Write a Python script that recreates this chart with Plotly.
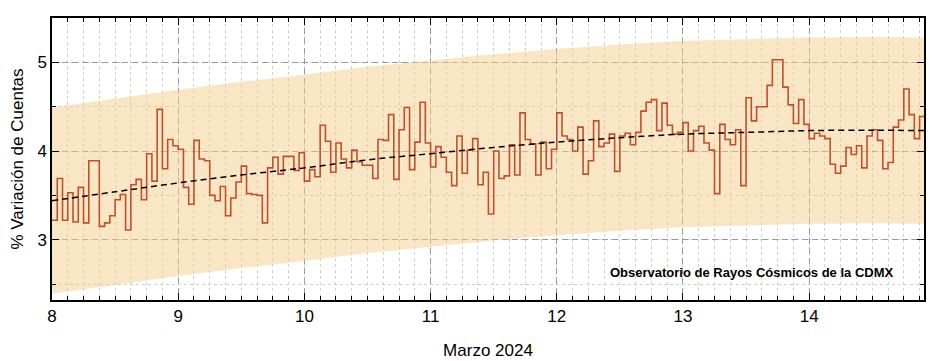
import numpy as np
import plotly.graph_objects as go

# Hourly % variation of counts, starting 8 March 2024 00:00
variacion = [
    3.22, 3.69, 3.22, 3.53, 3.20, 3.59, 3.19, 3.89, 3.89, 3.15,
    3.19, 3.27, 3.45, 3.51, 3.11, 3.62, 3.68, 3.45, 3.97, 3.66,
    4.47, 3.80, 4.13, 4.06, 4.02, 3.59, 3.40, 4.12, 3.91, 3.89,
    3.50, 3.44, 3.60, 3.27, 3.47, 3.65, 3.83, 3.52, 3.51, 3.50,
    3.19, 3.81, 3.93, 3.74, 3.94, 3.94, 3.78, 3.98, 3.66, 3.79,
    3.71, 4.29, 4.11, 3.76, 4.09, 3.91, 3.81, 4.01, 3.88, 3.84,
    3.84, 3.69, 4.13, 4.12, 4.41, 3.68, 4.24, 4.49, 3.79, 4.10,
    4.55, 4.09, 3.82, 4.05, 3.93, 3.76, 3.61, 4.17, 3.75, 4.01,
    4.14, 3.62, 3.76, 3.29, 4.00, 3.69, 3.72, 4.07, 3.73, 4.43,
    4.13, 4.08, 3.73, 4.10, 3.80, 4.02, 4.43, 4.17, 4.13, 4.00,
    4.27, 3.74, 3.89, 4.34, 4.05, 4.09, 4.19, 3.77, 4.17, 4.20,
    4.07, 4.21, 4.45, 4.55, 4.58, 4.23, 4.54, 4.29, 4.19, 4.21,
    4.32, 4.00, 4.23, 4.28, 4.09, 4.01, 3.52, 4.30, 4.13, 4.07,
    4.24, 3.61, 4.60, 4.34, 4.50, 4.50, 4.74, 5.03, 5.03, 4.72,
    4.52, 4.31, 4.58, 4.30, 4.14, 4.20, 4.17, 4.14, 3.85, 3.75,
    3.83, 4.04, 3.96, 4.06, 3.81, 4.17, 4.24, 4.12, 3.80, 3.87,
    4.27, 4.35, 4.70, 4.41, 4.14, 4.39,
]

# Trend curve and band, read at half-day steps
trend_dias = [8.0, 8.5, 9.0, 9.5, 10.0, 10.5, 11.0, 11.5, 12.0, 12.5, 13.0, 13.5, 14.0, 14.5, 14.92]
trend_val = [3.44, 3.54, 3.64, 3.73, 3.81, 3.90, 3.97, 4.04, 4.10, 4.15, 4.19, 4.21, 4.23, 4.235, 4.23]
banda_sup = [4.49, 4.59, 4.69, 4.78, 4.86, 4.95, 5.02, 5.09, 5.15, 5.20, 5.24, 5.26, 5.28, 5.285, 5.28]
banda_inf = [2.39, 2.49, 2.59, 2.68, 2.76, 2.85, 2.92, 2.99, 3.05, 3.10, 3.14, 3.16, 3.18, 3.185, 3.18]

x_ticks = [8, 9, 10, 11, 12, 13, 14]
x_labels = ["8", "9", "10", "11", "12", "13", "14"]
y_ticks = [3, 4, 5]

anotacion = "Observatorio de Rayos Cósmicos de la CDMX"
x_titulo = "Marzo 2024"
y_titulo = "% Variación de Cuentas"

# hourly positions
horas = 8 + np.arange(len(variacion) + 1) / 24.0
valores = variacion + [variacion[-1]]

FONT = "Liberation Sans, Arial, sans-serif"

fig = go.Figure()

fig.add_trace(go.Scatter(
    x=trend_dias, y=banda_inf, mode="lines", line=dict(width=0),
    hoverinfo="skip", showlegend=False))
fig.add_trace(go.Scatter(
    x=trend_dias, y=banda_sup, mode="lines", line=dict(width=0),
    fill="tonexty", fillcolor="rgba(243,205,140,0.5)",
    hoverinfo="skip", showlegend=False))

fig.add_trace(go.Scatter(
    x=horas, y=valores, mode="lines", line_shape="hv",
    line=dict(color="#C1502A", width=1.6), showlegend=False))

fig.add_trace(go.Scatter(
    x=trend_dias, y=trend_val, mode="lines", line_shape="spline",
    line=dict(color="black", width=1.5, dash="6px,4px"), showlegend=False))

fig.add_annotation(
    x=0.968, xref="paper", y=2.63, yref="y", xanchor="right", yanchor="middle",
    text="<b>" + anotacion + "</b>", showarrow=False,
    font=dict(family=FONT, size=13, color="black"))

axis_common = dict(
    showline=True, linecolor="black", linewidth=1.5, mirror="allticks",
    ticks="inside", ticklen=7, tickcolor="black", tickwidth=1,
    showgrid=True, gridcolor="#9a9a9a", griddash="6px,4px", gridwidth=1,
    zeroline=False, tickfont=dict(family=FONT, size=17, color="black"),
    automargin=False,
)

fig.update_xaxes(
    range=[8, 14.91], tickvals=x_ticks, ticktext=x_labels,
    title=dict(text=x_titulo, font=dict(family=FONT, size=17, color="black"), standoff=19),
    minor=dict(dtick=0.125, tick0=8, ticks="inside", ticklen=4, tickcolor="black",
               showgrid=True, gridcolor="#cfcfcf", griddash="dot", gridwidth=1),
    **axis_common)
fig.update_yaxes(
    range=[2.32, 5.5], tickvals=y_ticks,
    title=dict(text=y_titulo, font=dict(family=FONT, size=17, color="black"), standoff=12),
    minor=dict(dtick=0.5, tick0=2.5, ticks="inside", ticklen=4, tickcolor="black",
               showgrid=True, gridcolor="#cfcfcf", griddash="dot", gridwidth=1),
    **axis_common)

# page body has an 8px default margin, so the figure is sized to fit the window
fig.update_layout(
    width=928, height=353,
    margin=dict(l=44, r=12, t=10, b=61),
    plot_bgcolor="white", paper_bgcolor="white",
    font=dict(family=FONT, size=17, color="black"),
    showlegend=False,
)

fig.write_html("out.html")
